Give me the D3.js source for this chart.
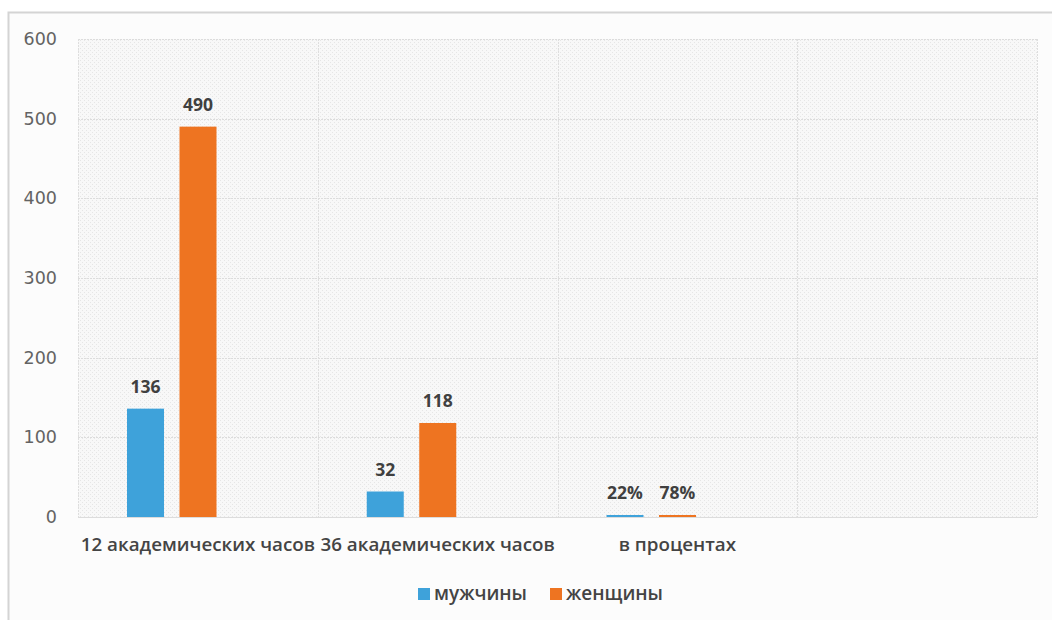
<!DOCTYPE html>
<html><head><meta charset="utf-8">
<script src="https://cdn.jsdelivr.net/npm/d3@7"></script>
<style>
html,body{margin:0;padding:0;background:#fff;}
svg{display:block;}
</style>
</head><body>
<svg id="chart" width="1052" height="620"></svg>
<script>
const categories = ["12 академических часов", "36 академических часов", "в процентах", ""];
const seriesNames = ["мужчины", "женщины"];
const maleValues = [136, 32, 0.22, null];
const femaleValues = [490, 118, 0.78, null];
const maleLabels = ["136", "32", "22%", ""];
const femaleLabels = ["490", "118", "78%", ""];
const yTicks = [0, 100, 200, 300, 400, 500, 600];
const colors = ["#3ea2da", "#ee7421"];

const svg = d3.select("#chart");
const W = 1052, H = 620;
const plot = {left: 78, right: 1037, top: 39, bottom: 517};

const defs = svg.append("defs");
const pat = defs.append("pattern").attr("id", "hatch").attr("width", 4).attr("height", 4)
  .attr("patternUnits", "userSpaceOnUse");
pat.append("rect").attr("width", 4).attr("height", 4).attr("fill", "#f8f8f8");
pat.append("rect").attr("x", 0).attr("y", 0).attr("width", 1).attr("height", 1).attr("fill", "#e6e6e6");
pat.append("rect").attr("x", 2).attr("y", 2).attr("width", 1).attr("height", 1).attr("fill", "#e6e6e6");

// outer chart frame
svg.append("rect").attr("x", 8.5).attr("y", 12.5).attr("width", W + 10).attr("height", H)
  .attr("fill", "#fcfcfc").attr("stroke", "#d4d4d4").attr("stroke-width", 2);

const x0 = d3.scaleBand().domain(categories).range([plot.left, plot.right]).padding(0);
const x1 = d3.scaleBand().domain([0, 1, 2]).range([49, 191]).paddingInner(0.295).paddingOuter(0);
const y = d3.scaleLinear().domain([0, 600]).range([plot.bottom, plot.top]);

// plot background
svg.append("rect").attr("x", plot.left).attr("y", plot.top)
  .attr("width", plot.right - plot.left).attr("height", plot.bottom - plot.top)
  .attr("fill", "url(#hatch)");

// horizontal gridlines
svg.append("g").selectAll("line").data(yTicks).join("line")
  .attr("x1", plot.left).attr("x2", plot.right)
  .attr("y1", d => Math.round(y(d)) + 0.5).attr("y2", d => Math.round(y(d)) + 0.5)
  .attr("stroke", "#dcdcdc").attr("stroke-width", 1.2).attr("stroke-dasharray", d => d === 0 ? null : "2,1");

// vertical gridlines at band boundaries
const bounds = categories.map(c => x0(c)).concat([x0(categories[categories.length - 1]) + x0.bandwidth()]);
svg.append("g").selectAll("line").data(bounds).join("line")
  .attr("x1", d => Math.round(d) + 0.5).attr("x2", d => Math.round(d) + 0.5)
  .attr("y1", plot.top).attr("y2", plot.bottom)
  .attr("stroke", "#dedede").attr("stroke-width", 1).attr("stroke-dasharray", "2,1");

// y axis labels
const yAxis = d3.axisLeft(y).tickValues(yTicks).tickSize(0).tickPadding(0);
const ya = svg.append("g").attr("transform", `translate(57,0)`).call(yAxis);
ya.select(".domain").remove();
ya.selectAll("text").attr("font-family", "DejaVu Sans").attr("font-size", 17.5)
  .attr("fill", "#636363");

// x axis labels
const xAxis = d3.axisBottom(x0).tickSize(0).tickPadding(0);
const xa = svg.append("g").attr("transform", `translate(0,535)`).call(xAxis);
xa.select(".domain").remove();
xa.selectAll("text").attr("font-family", "Open Sans").attr("font-weight", 600).attr("font-size", 18.8)
  .attr("fill", "#444").attr("dy", "0.86em");

// bars
const series = [
  {name: seriesNames[0], values: maleValues, labels: maleLabels, color: colors[0]},
  {name: seriesNames[1], values: femaleValues, labels: femaleLabels, color: colors[1]}
];
series.forEach((s, si) => {
  const g = svg.append("g");
  const data = categories.map((c, i) => ({c, v: s.values[i], l: s.labels[i]})).filter(d => d.v != null);
  g.selectAll("rect").data(data).join("rect")
    .attr("x", d => x0(d.c) + x1(si))
    .attr("width", x1.bandwidth())
    .attr("y", d => Math.min(y(d.v), y(0) - 2))
    .attr("height", d => Math.max(y(0) - y(d.v), 2))
    .attr("fill", s.color);
  g.selectAll("text").data(data).join("text")
    .attr("x", d => x0(d.c) + x1(si) + x1.bandwidth() / 2)
    .attr("y", d => Math.min(y(d.v), y(0) - 2) - 16)
    .attr("text-anchor", "middle")
    .attr("font-family", "Open Sans").attr("font-weight", "bold").attr("font-size", 17.5)
    .attr("fill", "#404040")
    .text(d => d.l);
});

// legend
const legendX = [418, 550];
const lg = svg.append("g");
series.forEach((s, si) => {
  lg.append("rect").attr("x", legendX[si]).attr("y", 588).attr("width", 12).attr("height", 12).attr("fill", s.color);
  lg.append("text").attr("x", legendX[si] + 16).attr("y", 600)
    .attr("font-family", "Open Sans").attr("font-weight", 600).attr("font-size", 19).attr("fill", "#444")
    .text(s.name);
});
</script>
</body></html>
